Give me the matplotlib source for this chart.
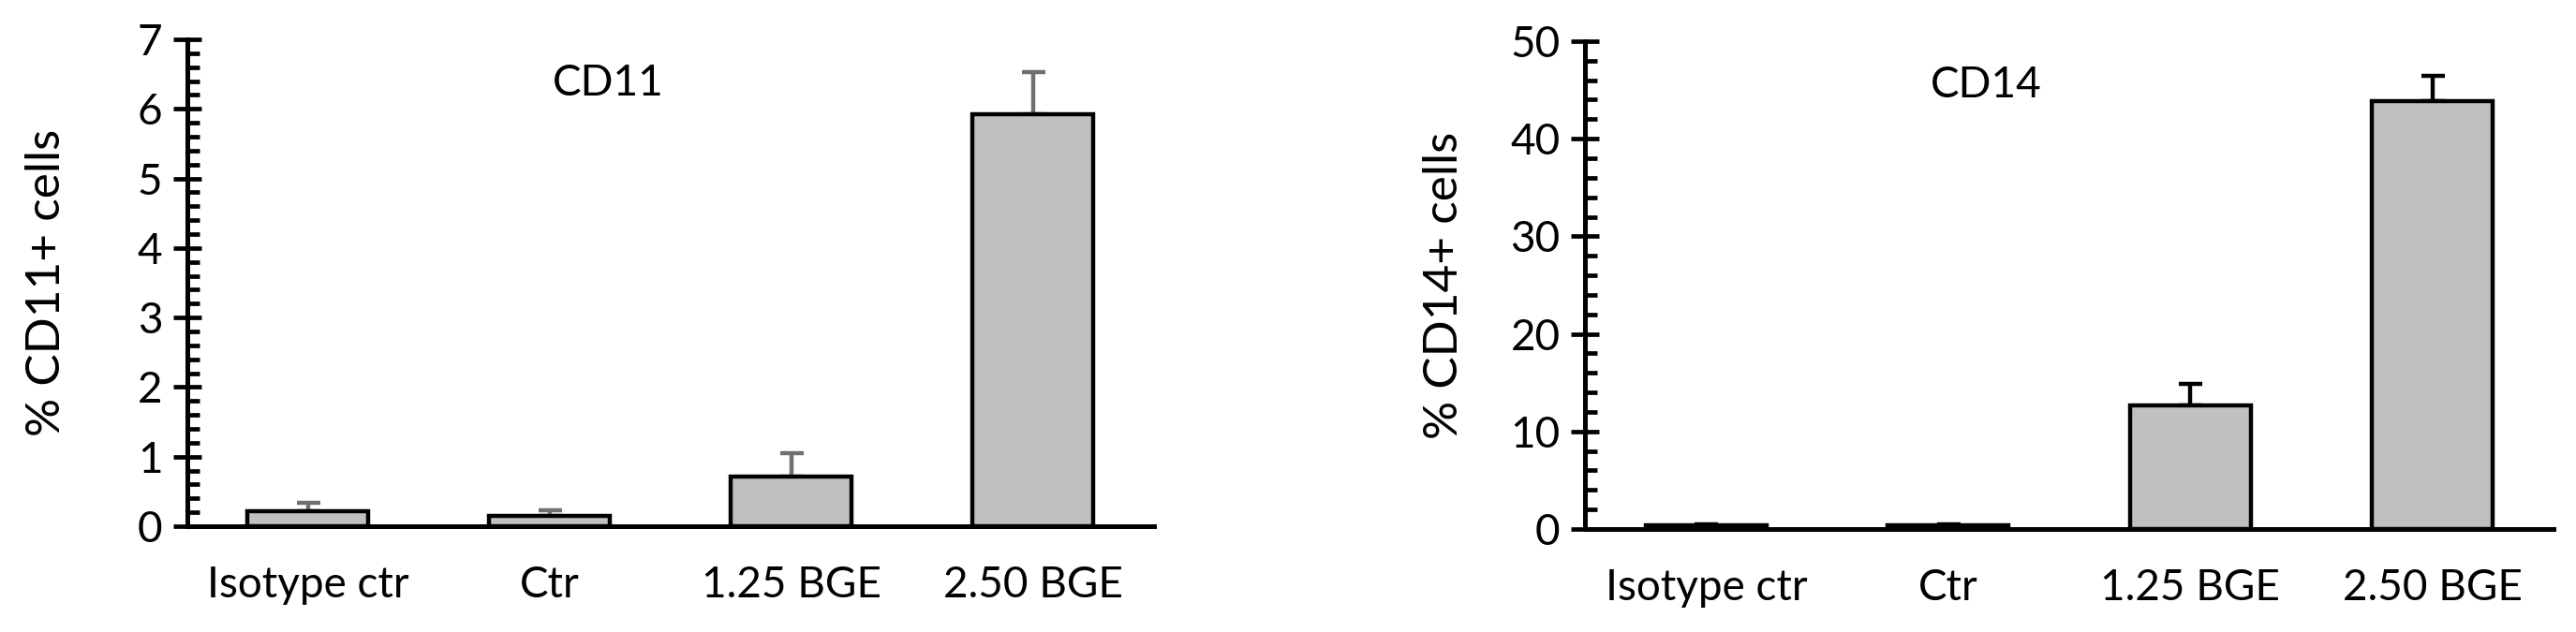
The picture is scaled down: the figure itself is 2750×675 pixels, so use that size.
import matplotlib
matplotlib.use('Agg')
import matplotlib.pyplot as plt
from matplotlib.ticker import MultipleLocator

plt.rcParams['font.family'] = ['Lato', 'DejaVu Sans']

categories = ['Isotype ctr', 'Ctr', '1.25 BGE', '2.50 BGE']

# CD11 panel
cd11_mean = [0.22, 0.15, 0.71, 5.92]
cd11_err = [0.12, 0.08, 0.34, 0.61]

# CD14 panel
cd14_mean = [0.35, 0.35, 12.7, 43.9]
cd14_err = [0.1, 0.1, 2.2, 2.5]

BAR = '#c0c0c0'
FS = 33


def panel(ax, means, errs, ymax, major, minor, title, title_x, ylabel, ecolor):
    x = list(range(len(categories)))
    ax.bar(x, means, width=0.5, color=BAR, edgecolor='black', linewidth=3.2, zorder=2)
    ax.errorbar(x, means, yerr=[[0] * len(errs), errs], fmt='none', ecolor=ecolor,
                elinewidth=3.2, capsize=9, capthick=3.2, zorder=1)
    ax.set_xlim(-0.5, 3.5)
    ax.set_ylim(0, ymax)
    ax.yaxis.set_major_locator(MultipleLocator(major))
    ax.yaxis.set_minor_locator(MultipleLocator(minor))
    ax.set_xticks(x)
    ax.set_xticklabels(categories, fontsize=FS)
    ax.tick_params(axis='x', length=0, pad=30)
    ax.tick_params(axis='y', which='major', direction='inout', length=22, width=3.4,
                   labelsize=FS, pad=8)
    ax.tick_params(axis='y', which='minor', direction='in', length=9.5, width=3.4)
    for s in ['top', 'right']:
        ax.spines[s].set_visible(False)
    for s in ['left', 'bottom']:
        ax.spines[s].set_linewidth(3.6)
    ax.spines['bottom'].set_zorder(3)
    ax.set_ylabel(ylabel, fontsize=37)
    ax.yaxis.set_label_coords(-0.123, 0.5)
    ax.text(title_x, 0.91, title, transform=ax.transAxes, fontsize=FS, ha='center', va='center')


fig = plt.figure(figsize=(27.5, 6.75), dpi=100)
ax1 = fig.add_axes([0.0727, 0.1674, 0.3753, 0.7704])
ax2 = fig.add_axes([0.6153, 0.1630, 0.3760, 0.7719])

panel(ax1, cd11_mean, cd11_err, 7, 1, 0.2, 'CD11', 0.435, '% CD11+ cells', '#707070')
panel(ax2, cd14_mean, cd14_err, 50, 10, 2, 'CD14', 0.414, '% CD14+ cells', 'black')

fig.savefig('out.png', dpi=100)
